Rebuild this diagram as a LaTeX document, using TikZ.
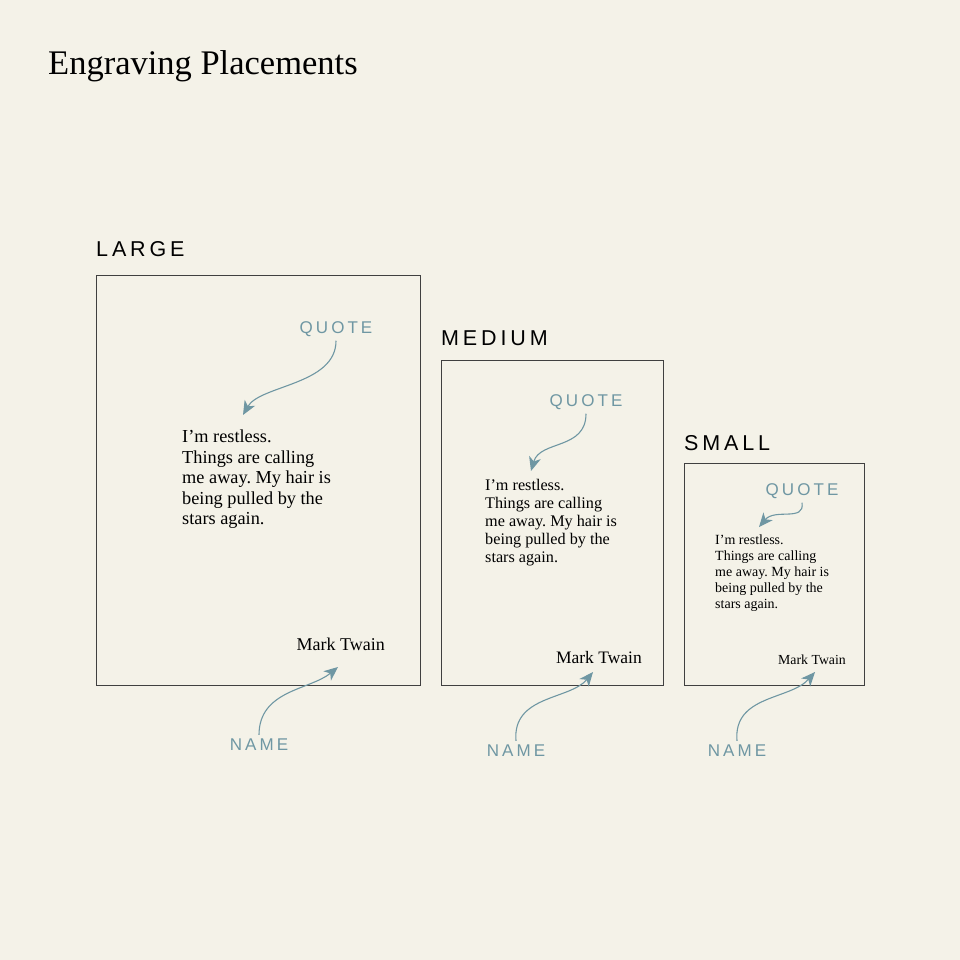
\documentclass[tikz,border=0pt]{standalone}
\usepackage{fontspec}
\setmainfont{Liberation Serif}
\newfontfamily\labelfont[LetterSpace=18]{Liberation Sans}
\usetikzlibrary{arrows.meta}
\definecolor{paper}{HTML}{F4F2E8}
\definecolor{steel}{HTML}{6F97A3}
\frenchspacing
\tikzset{
    frame/.style={draw=black!75,line width=0.8pt},
    size/.style={anchor=base west,inner sep=0pt,font=\labelfont\fontsize{21.5}{26}\selectfont},
    tag/.style={inner sep=0pt,text=steel,font=\labelfont\fontsize{17}{20}\selectfont},
    quote/.style={anchor=north west,inner sep=0pt,align=left},
    pointer/.style={draw=steel,line width=1.1pt,-{Stealth[length=14pt,width=12pt,inset=4pt]}}
    }
\begin{document}
\begin{tikzpicture}[x=1pt,y=-1pt]
\fill[paper] (0,0) rectangle (960,960);
\useasboundingbox (0,0) rectangle (960,960);
\node[anchor=base west,inner sep=0pt,font=\fontsize{34.5}{40}\selectfont] (title) at (48,75) {Engraving Placements};
%large
\node[size] (lg) at (96,256) {LARGE};
\draw[frame] (96,275) rectangle (420,685);
\node[quote,font=\fontsize{18.3}{20.5}\selectfont] (lgq) at (182,430) {I'm restless.\\Things are calling\\me away. My hair is\\being pulled by the\\stars again.};
\node[anchor=base east,inner sep=0pt,font=\fontsize{18}{20}\selectfont] (lgn) at (385,650) {Mark Twain};
\node[tag] (lgqt) at (336,329) {QUOTE};
\node[tag] (lgnt) at (259,745) {NAME};
\coordinate (lga) at (243,415);
\coordinate (lgb) at (338,667);
\draw[pointer] (lgqt.south) ++(0,4) .. controls (336,385) and (260,385) .. (lga);
\draw[pointer] (lgnt.north) ++(0,-4) .. controls (259,690) and (310,690) .. (lgb);
%medium
\node[size] (md) at (441,345) {MEDIUM};
\draw[frame] (441,360) rectangle (663,685);
\node[quote,font=\fontsize{16.2}{18}\selectfont] (mdq) at (485,479) {I'm restless.\\Things are calling\\me away. My hair is\\being pulled by the\\stars again.};
\node[anchor=base east,inner sep=0pt,font=\fontsize{17.5}{20}\selectfont] (mdn) at (642,663) {Mark Twain};
\node[tag] (mdqt) at (586,402) {QUOTE};
\node[tag] (mdnt) at (516,751) {NAME};
\coordinate (mda) at (531,471);
\coordinate (mdb) at (593,672);
\draw[pointer] (mdqt.south) ++(0,4) .. controls (586,450) and (540,440) .. (mda);
\draw[pointer] (mdnt.north) ++(0,-4) .. controls (512,695) and (570,700) .. (mdb);
%small
\node[size] (sm) at (684,450) {SMALL};
\draw[frame] (684,463) rectangle (864,685);
\node[quote,font=\fontsize{14}{16}\selectfont] (smq) at (715,535) {I'm restless.\\Things are calling\\me away. My hair is\\being pulled by the\\stars again.};
\node[anchor=base east,inner sep=0pt,font=\fontsize{13.8}{16}\selectfont] (smn) at (846,664) {Mark Twain};
\node[tag] (smqt) at (802,491) {QUOTE};
\node[tag] (smnt) at (737,751) {NAME};
\coordinate (sma) at (759,527);
\coordinate (smb) at (815,672);
\draw[pointer] (smqt.south) ++(0,4) .. controls (805,522) and (775,508) .. (sma);
\draw[pointer] (smnt.north) ++(0,-4) .. controls (733,695) and (790,700) .. (smb);
\end{tikzpicture}
\end{document}
